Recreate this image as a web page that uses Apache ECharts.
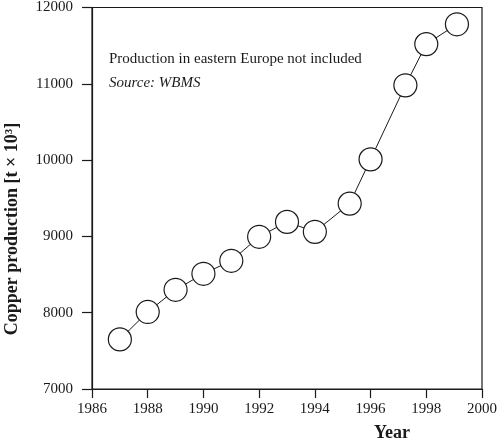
<!DOCTYPE html>
<html>
<head>
<meta charset="utf-8">
<script src="https://cdn.jsdelivr.net/npm/echarts@6/dist/echarts.min.js"></script>
<style>
    html, body { margin: 0; padding: 0; background: #fff; }
    #main { width: 500px; height: 441px; }
</style>
</head>
<body>
<div id="main"></div>
<script>
    // values
    var years = [1987, 1988, 1989, 1990, 1991, 1992, 1993, 1994, 1995.25, 1996, 1997.25, 1998, 1999.1];
    var production = [7650, 8010, 8300, 8510, 8680, 8995, 9190, 9060, 9430, 10010, 10980, 11520, 11780];
    var noteLines = ['Production in eastern Europe not included', 'Source: WBMS'];

    var chartDom = document.getElementById('main');
    var myChart = echarts.init(chartDom);
    var serif = '"Liberation Serif", "DejaVu Serif", serif';
    var ink = '#1a1a1a';

    var points = years.map(function (y, i) {
        return [y, production[i]];
    });

    // plain numbers, no thousands separator
    function plain(v) {
        return String(v);
    }

    var option = {
        animation: false,
        grid: {
            left: 92,
            right: 13,
            top: 5,
            bottom: 52,
            show: true,
            borderColor: ink,
            borderWidth: 1.2
        },
        xAxis: {
            type: 'value',
            min: 1986,
            max: 2000,
            interval: 2,
            axisLine: { show: true, lineStyle: { color: ink, width: 1.2 } },
            axisTick: { show: true, inside: false, length: 9, lineStyle: { color: ink, width: 1.2 } },
            axisLabel: { color: ink, fontFamily: serif, fontSize: 15, margin: 13, formatter: plain },
            splitLine: { show: false }
        },
        yAxis: {
            type: 'value',
            min: 7000,
            max: 12000,
            interval: 1000,
            axisLine: { show: true, lineStyle: { color: ink, width: 1.2 } },
            axisTick: { show: true, inside: false, length: 10, lineStyle: { color: ink, width: 1.2 } },
            axisLabel: { color: ink, fontFamily: serif, fontSize: 15, margin: 19, formatter: plain },
            splitLine: { show: false }
        },
        graphic: [
            {
                type: 'text',
                left: 109,
                top: 52,
                style: { text: noteLines[0], font: '15px ' + serif, fill: ink }
            },
            {
                type: 'text',
                left: 109,
                top: 76,
                style: { text: noteLines[1], font: 'italic 15px ' + serif, fill: ink }
            },
            {
                type: 'text',
                x: 12,
                y: 229,
                rotation: Math.PI / 2,
                style: {
                    text: 'Copper production [t × 10³]',
                    font: 'bold 18px ' + serif,
                    fill: ink,
                    align: 'center',
                    verticalAlign: 'middle'
                }
            },
            {
                type: 'text',
                x: 392,
                y: 433,
                style: {
                    text: 'Year',
                    font: 'bold 18px ' + serif,
                    fill: ink,
                    align: 'center',
                    verticalAlign: 'middle'
                }
            }
        ],
        series: [
            {
                name: 'Copper production',
                type: 'line',
                data: points,
                symbol: 'circle',
                symbolSize: 23,
                lineStyle: { color: ink, width: 1 },
                itemStyle: { color: '#fff', borderColor: ink, borderWidth: 1.2 }
            }
        ]
    };

    myChart.setOption(option);
</script>
</body>
</html>
